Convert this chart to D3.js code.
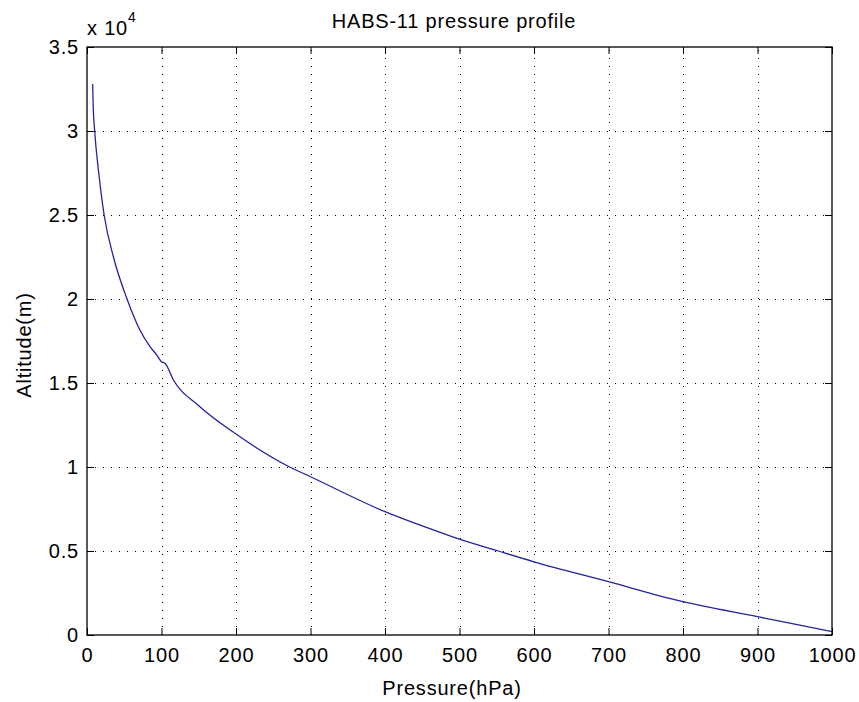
<!DOCTYPE html>
<html>
<head>
<meta charset="utf-8">
<script src="https://cdn.jsdelivr.net/npm/d3@7"></script>
<style>
  body { margin: 0; background: #fff; }
  svg { display: block; font-family: 'Liberation Sans', Arial, sans-serif; letter-spacing: 0.8px; }
</style>
</head>
<body>
<div id="chart"></div>
<script>
// values
const pressure = [7.6, 8.3, 10.3, 15.8, 23, 35.5, 53.7, 64.8, 71, 84.6, 93.5, 100, 104.7, 116, 150, 200, 272, 300, 400, 474, 500, 552, 600, 700, 800, 900, 1000]
const altitude = [32800, 31500, 30000, 27500, 25000, 22500, 20000, 18750, 18150, 17160, 16670, 16270, 16170, 15180, 13650, 11960, 10000, 9420, 7340, 6110, 5710, 5000, 4360, 3170, 1980, 1090, 200]
const xTicks = [0, 100, 200, 300, 400, 500, 600, 700, 800, 900, 1000]
const yTicks = [0, 0.5, 1, 1.5, 2, 2.5, 3, 3.5]

const width = 859
const height = 702
const margin = { top: 47, right: 27, bottom: 67, left: 87 }

const svg = d3.select('#chart')
  .append('svg')
  .attr('width', width)
  .attr('height', height)

const x = d3.scaleLinear().domain([0, 1000]).range([margin.left, width - margin.right])
const y = d3.scaleLinear().domain([0, 3.5]).range([height - margin.bottom, margin.top])

const x0 = x.range()[0], x1 = x.range()[1]
const y0 = y.range()[0], y1 = y.range()[1]

// dotted grid
const grid = svg.append('g')
  .attr('stroke', '#000')
  .attr('stroke-width', 1)
  .attr('stroke-dasharray', '1,7')

grid.selectAll('.vg')
  .data(xTicks.slice(1, -1))
  .enter().append('line')
  .attr('x1', d => Math.round(x(d)) + 0.5)
  .attr('x2', d => Math.round(x(d)) + 0.5)
  .attr('y1', y0)
  .attr('y2', y1)

grid.selectAll('.hg')
  .data(yTicks.slice(1, -1))
  .enter().append('line')
  .attr('y1', d => Math.round(y(d)) + 0.5)
  .attr('y2', d => Math.round(y(d)) + 0.5)
  .attr('x1', x0)
  .attr('x2', x1)

// the profile
const points = pressure.map((p, i) => [p, altitude[i] / 1e4])
const line = d3.line()
  .x(d => x(d[0]))
  .y(d => y(d[1]))
  .curve(d3.curveMonotoneX)

svg.append('path')
  .datum(points)
  .attr('fill', 'none')
  .attr('stroke', '#2323a0')
  .attr('stroke-width', 1.3)
  .attr('d', line)

// axes, ticks inward, box on
const tickLen = 7
const axisStyle = g => {
  g.select('.domain').remove()
  g.selectAll('.tick line').attr('stroke', '#000')
  g.selectAll('text').attr('fill', '#000').attr('font-size', 20)
}

svg.append('g')
  .attr('transform', `translate(0,${y0})`)
  .call(d3.axisBottom(x).tickValues(xTicks).tickSize(-tickLen).tickPadding(13).tickFormat(d3.format('d')))
  .call(axisStyle)

svg.append('g')
  .attr('transform', `translate(0,${y1})`)
  .call(d3.axisTop(x).tickValues(xTicks).tickSize(-tickLen).tickFormat(''))
  .call(axisStyle)

svg.append('g')
  .attr('transform', `translate(${x0},0)`)
  .call(d3.axisLeft(y).tickValues(yTicks).tickSize(-tickLen).tickPadding(8).tickFormat(d3.format('')))
  .call(axisStyle)

svg.append('g')
  .attr('transform', `translate(${x1},0)`)
  .call(d3.axisRight(y).tickValues(yTicks).tickSize(-tickLen).tickFormat(''))
  .call(axisStyle)

svg.append('rect')
  .attr('x', x0)
  .attr('y', y1)
  .attr('width', x1 - x0)
  .attr('height', y0 - y1)
  .attr('fill', 'none')
  .attr('stroke', '#000')
  .attr('stroke-width', 1.3)

// exponent label
const expo = svg.append('text')
  .attr('x', x0)
  .attr('y', 35)
  .attr('font-size', 20)
expo.append('tspan').text('x 10')
expo.append('tspan').attr('dy', -13).attr('font-size', 14).text('4')

// title and axis labels
svg.append('text')
  .attr('x', 454)
  .attr('y', 28)
  .attr('text-anchor', 'middle')
  .attr('font-size', 20)
  .text('HABS-11 pressure profile')

svg.append('text')
  .attr('x', 452)
  .attr('y', 695)
  .attr('text-anchor', 'middle')
  .attr('font-size', 20)
  .text('Pressure(hPa)')

svg.append('text')
  .attr('transform', 'translate(31,345) rotate(-90)')
  .attr('text-anchor', 'middle')
  .attr('font-size', 20)
  .text('Altitude(m)')
</script>
</body>
</html>
